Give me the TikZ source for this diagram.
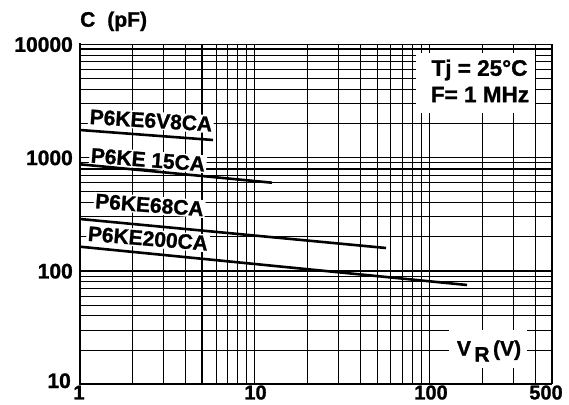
\documentclass[tikz,border=0pt]{standalone}
\usepackage{fontspec}
\setmainfont{Liberation Sans}[BoldFont={Liberation Sans Bold},BoldFeatures={FakeBold=1.2}]
\begin{document}
\begin{tikzpicture}[x=1pt,y=1pt,
  grid/.style={line width=1pt,black},
  thickgrid/.style={line width=2pt,black},
  curve/.style={line width=2.6pt,black,line cap=butt},
  lbl/.style={font=\bfseries\fontsize{21}{25}\selectfont,inner sep=0pt},
  xlbl/.style={font=\bfseries\fontsize{20}{24}\selectfont,inner sep=0pt,anchor=base},
  cnd/.style={font=\bfseries\fontsize{22.5}{26}\selectfont,inner sep=0pt},
  tag/.style={font=\bfseries\fontsize{21}{25}\selectfont,inner sep=1.5pt,fill=white}]
\useasboundingbox (0,0) rectangle (569,404);
\fill[white] (0,0) rectangle (569,404);
% vertical grid
\foreach \v in {2,...,9,10,20,30,...,90,100,200,300,400} {
  \pgfmathsetmacro\xx{80+174.9*log10(\v)}
  \draw[grid] (\xx,19.8) -- (\xx,359.7);
}
\pgfmathsetmacro\xf{80+174.9*log10(5)}
\draw[thickgrid] (\xf,19.8) -- (\xf,359.7);
% horizontal grid
\foreach \c in {20,30,...,90,100,200,300,...,900,1000,2000,3000,...,9000} {
  \pgfmathsetmacro\yy{19.8+113.3*(log10(\c)-1)}
  \draw[grid] (80,\yy) -- (552,\yy);
}
\foreach \c in {100,800,9000} {
  \pgfmathsetmacro\yy{19.8+113.3*(log10(\c)-1)}
  \draw[thickgrid] (80,\yy) -- (552,\yy);
}
% frame
\draw[line width=1.2pt] (80,359.7) -- (552,359.7) -- (552,19.8);
\draw[line width=1.5pt] (80,19.8) -- (552,19.8);
\draw[line width=2.2pt] (80,18.8) -- (80,360.5);
% axis labels
\node[lbl,anchor=base east] (y4) at (73,352.2) {10000};
\node[lbl,anchor=base east] (y3) at (73,238.9) {1000};
\node[lbl,anchor=base east] (y2) at (73,125.6) {100};
\node[lbl,anchor=base east] (y1) at (71,16) {10};
\node[xlbl] (x1) at (79,4.6) {1};
\node[xlbl] (x2) at (255.5,4.6) {10};
\node[xlbl] (x3) at (431,4.6) {100};
\node[xlbl] (x4) at (546,4.6) {500};
\node[lbl,anchor=west] (cp) at (80,382.7) {C\hspace{12pt}(pF)};
% condition box
\node[fill=white,minimum width=119pt,minimum height=60pt,inner sep=0pt] (cond) at (475.5,321) {};
\node[cnd] (tj) at (479.5,334) {Tj = 25°C};
\node[cnd] (fr) at (480,309.5) {F= 1 MHz};
% VR box
\node[fill=white,minimum width=78pt,minimum height=38pt,inner sep=0pt] (vrbox) at (488,55) {};
\node[lbl] (vr) at (489,53) {V\,\raisebox{-6pt}{R}\,(V)};
% curve tags
\node[tag,rotate=-3.5] (t1) at (151,283.5) {P6KE6V8CA};
\node[tag,rotate=-4.5] (t2) at (148,244.2) {P6KE 15CA};
\node[tag,rotate=-4.3] (t3) at (149.5,199) {P6KE68CA};
\node[tag,rotate=-4.7] (t4) at (148,165.5) {P6KE200CA};
% curves
\coordinate (a1) at (80,274); \coordinate (b1) at (213,264);
\coordinate (a2) at (80,239.7); \coordinate (b2) at (272,221.3);
\coordinate (a3) at (80,185); \coordinate (b3) at (386,156);
\coordinate (a4) at (80,157.3); \coordinate (b4) at (467,119);
\draw[curve] (a1) -- (b1);
\draw[curve] (a2) -- (b2);
\draw[curve] (a3) -- (b3);
\draw[curve] (a4) -- (b4);
\end{tikzpicture}
\end{document}
